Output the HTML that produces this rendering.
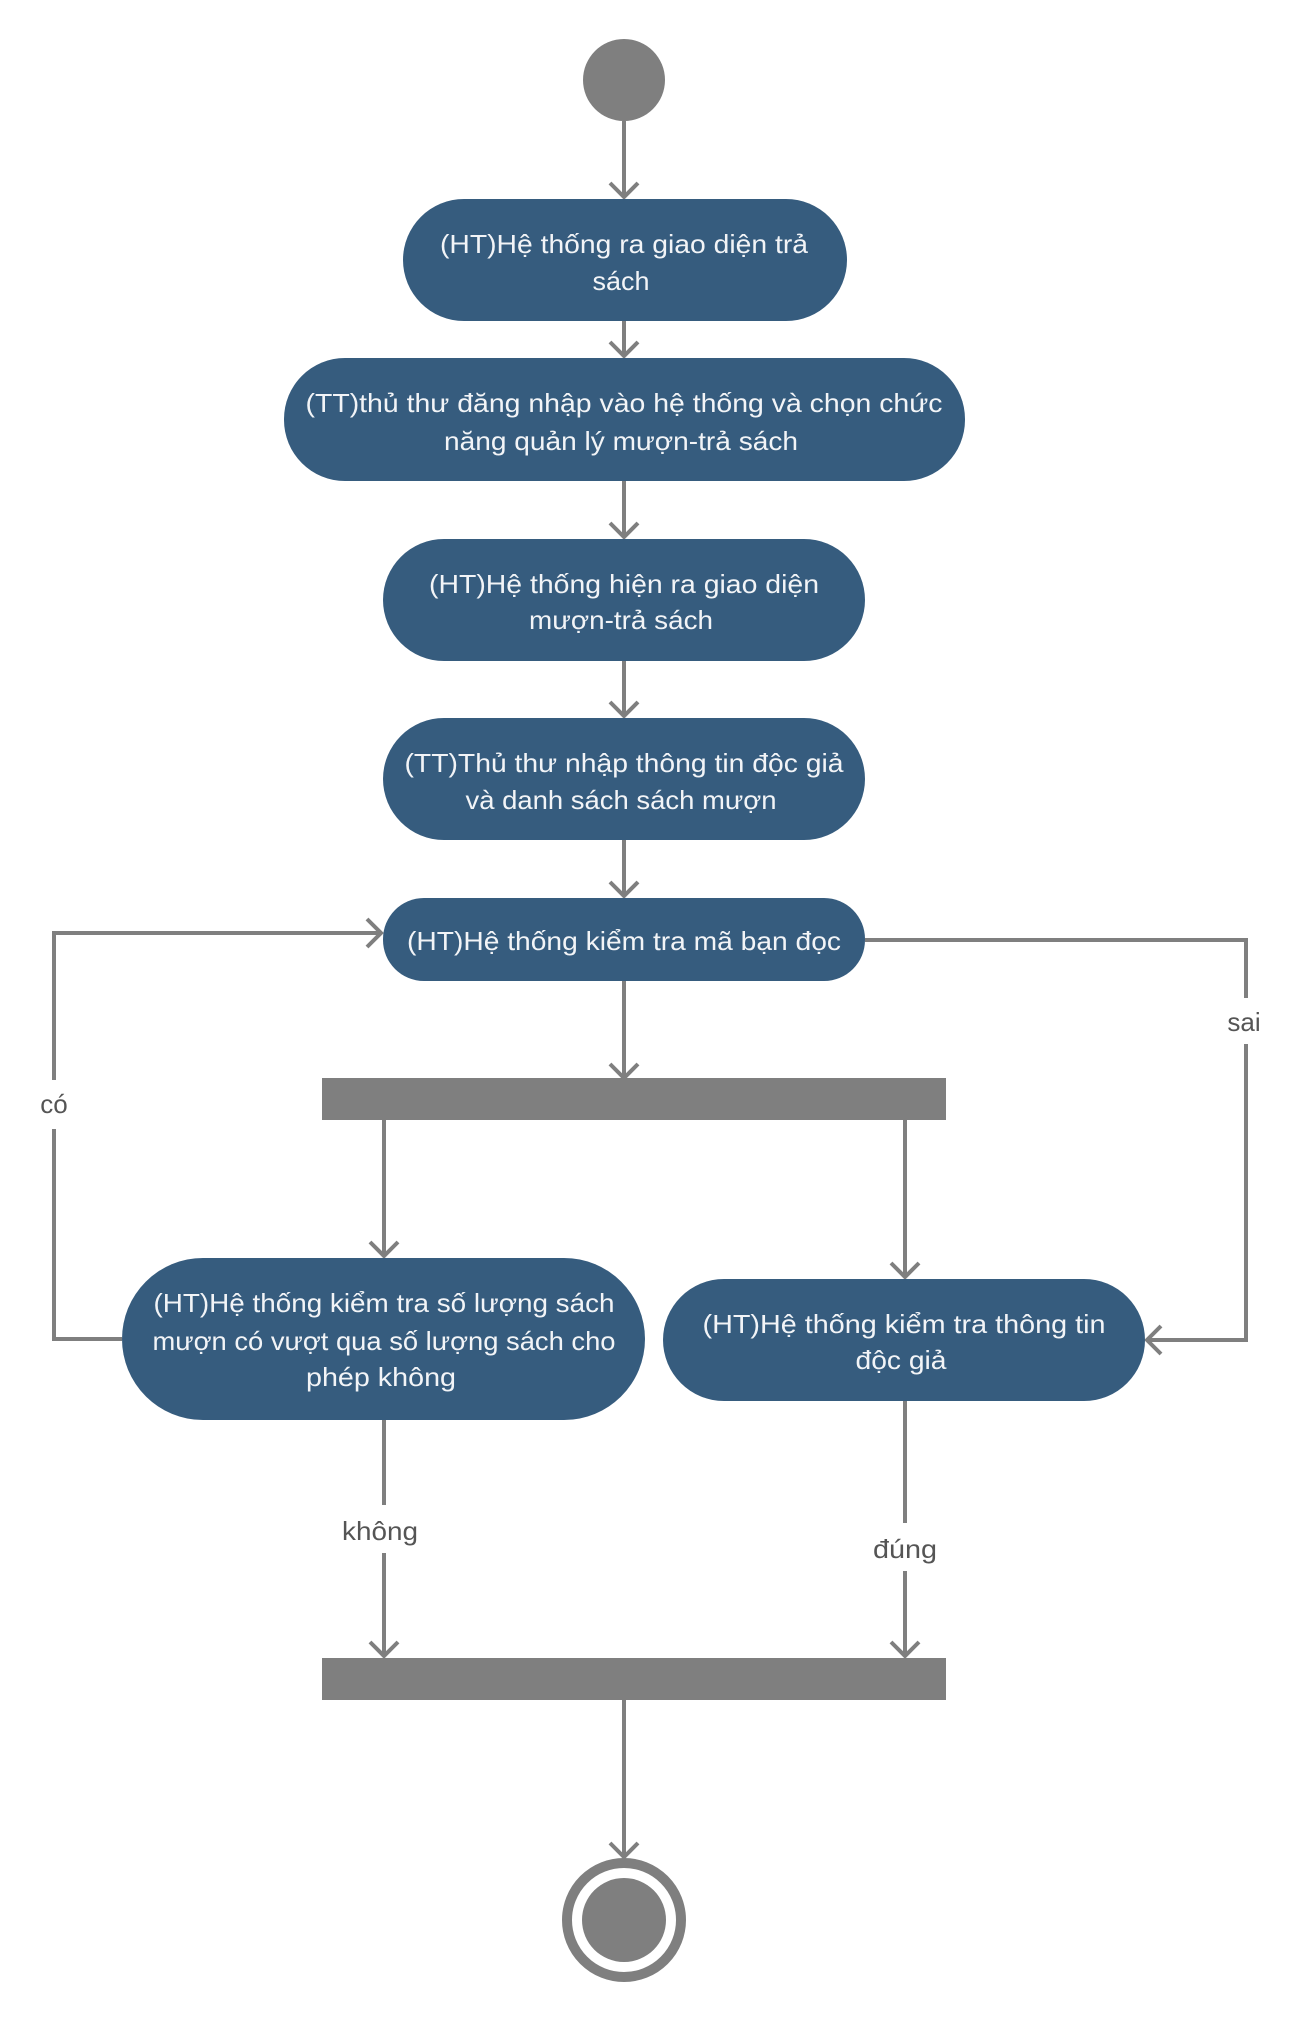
<!DOCTYPE html>
<html><head><meta charset="utf-8"><style>
html,body{margin:0;padding:0;background:#fff;}
svg{display:block;}
.t{font-family:"Liberation Sans","DejaVu Sans",sans-serif;font-size:26px;fill:#f2f4f7;text-anchor:middle;}
.l{font-family:"Liberation Sans","DejaVu Sans",sans-serif;font-size:26px;fill:#555;text-anchor:middle;}
.b{fill:#365c7e;}
.ln{stroke:#7f7f7f;stroke-width:4;fill:none;}
</style></head><body>
<svg width="1308" height="2021" viewBox="0 0 1308 2021" xmlns="http://www.w3.org/2000/svg">
<circle cx="624" cy="80" r="41" fill="#7f7f7f"/>
<g class="ln">
<path d="M624 121V197M610 183L624 197L638 183"/>
<path d="M624 321V356M610 342L624 356L638 342"/>
<path d="M624 481V537M610 523L624 537L638 523"/>
<path d="M624 661V716M610 702L624 716L638 702"/>
<path d="M624 840V896M610 882L624 896L638 882"/>
<path d="M624 981V1078M610 1064L624 1078L638 1064"/>
<path d="M384 1120V1256M370 1242L384 1256L398 1242"/>
<path d="M905 1120V1277M891 1263L905 1277L919 1263"/>
<path d="M122 1339H54V933H381M367 919L381 933L367 947"/>
<path d="M865 940H1246V1340H1147M1161 1326L1147 1340L1161 1354"/>
<path d="M384 1420V1656M370 1642L384 1656L398 1642"/>
<path d="M905 1401V1656M891 1642L905 1656L919 1642"/>
<path d="M624 1700V1857M610 1843L624 1857L638 1843"/>
</g>
<rect x="30" y="1080" width="50" height="49" fill="#fff"/>
<rect x="1215" y="998" width="70" height="46" fill="#fff"/>
<rect x="330" y="1505" width="100" height="48" fill="#fff"/>
<rect x="855" y="1523" width="100" height="48" fill="#fff"/>
<text class="l" x="54" y="1113">có</text>
<text class="l" x="1244" y="1031">sai</text>
<text class="l" x="380" y="1540" textLength="76" lengthAdjust="spacingAndGlyphs">không</text>
<text class="l" x="905" y="1558" textLength="64" lengthAdjust="spacingAndGlyphs">đúng</text>

<rect class="b" x="403" y="199" width="444" height="122" rx="61"/>
<text class="t" x="624" y="253" textLength="368" lengthAdjust="spacingAndGlyphs">(HT)Hệ thống ra giao diện trả</text>
<text class="t" x="621" y="290" textLength="57" lengthAdjust="spacingAndGlyphs">sách</text>

<rect class="b" x="284" y="358" width="681" height="123" rx="61"/>
<text class="t" x="624" y="412" textLength="637" lengthAdjust="spacingAndGlyphs">(TT)thủ thư  đăng nhập vào hệ thống và chọn chức</text>
<text class="t" x="621" y="450" textLength="354" lengthAdjust="spacingAndGlyphs">năng quản lý mượn-trả sách</text>

<rect class="b" x="383" y="539" width="482" height="122" rx="61"/>
<text class="t" x="624" y="593" textLength="390" lengthAdjust="spacingAndGlyphs">(HT)Hệ thống hiện ra giao diện</text>
<text class="t" x="621" y="629" textLength="184" lengthAdjust="spacingAndGlyphs">mượn-trả sách</text>

<rect class="b" x="383" y="718" width="482" height="122" rx="61"/>
<text class="t" x="624" y="772" textLength="439" lengthAdjust="spacingAndGlyphs">(TT)Thủ thư nhập thông tin độc giả</text>
<text class="t" x="621" y="809" textLength="311" lengthAdjust="spacingAndGlyphs">và danh sách sách mượn</text>

<rect class="b" x="383" y="898" width="482" height="83" rx="41"/>
<text class="t" x="624" y="950" textLength="434" lengthAdjust="spacingAndGlyphs">(HT)Hệ thống kiểm tra mã bạn đọc</text>

<rect x="322" y="1078" width="624" height="42" fill="#7f7f7f"/>

<rect class="b" x="122" y="1258" width="523" height="162" rx="81"/>
<text class="t" x="384" y="1312" textLength="461" lengthAdjust="spacingAndGlyphs">(HT)Hệ thống kiểm tra số lượng sách</text>
<text class="t" x="384" y="1350" textLength="463" lengthAdjust="spacingAndGlyphs">mượn có vượt qua số lượng sách cho</text>
<text class="t" x="381" y="1386" textLength="150" lengthAdjust="spacingAndGlyphs">phép không</text>

<rect class="b" x="663" y="1279" width="482" height="122" rx="61"/>
<text class="t" x="904" y="1333" textLength="403" lengthAdjust="spacingAndGlyphs">(HT)Hệ thống kiểm tra thông tin</text>
<text class="t" x="901" y="1369" textLength="91" lengthAdjust="spacingAndGlyphs">độc giả</text>

<rect x="322" y="1658" width="624" height="42" fill="#7f7f7f"/>

<circle cx="624" cy="1920" r="57" fill="none" stroke="#7f7f7f" stroke-width="10"/>
<circle cx="624" cy="1920" r="42" fill="#7f7f7f"/>
</svg>
</body></html>
